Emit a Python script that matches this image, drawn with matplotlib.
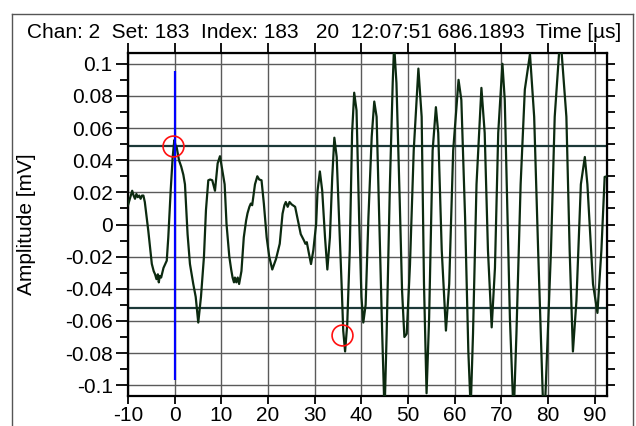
import numpy as np
import matplotlib
matplotlib.use("Agg")
import matplotlib.pyplot as plt
from matplotlib.lines import Line2D

plt.rcParams["font.family"] = ["Liberation Sans", "DejaVu Sans"]
plt.rcParams["axes.unicode_minus"] = False

# waveform (time in us, amplitude in mV)
t = [-10.0, -9.6, -9.1, -8.8, -8.5, -8.2, -7.9, -7.6, -7.3, -7.0, -6.7, -6.4,
     -5.65, -4.9, -4.5, -4.2, -3.9, -3.6, -3.4, -3.2, -2.9, -2.4, -1.7, -1.37,
     -0.86, -0.43, -0.08, 0.2, 0.43, 0.92, 1.4, 1.85, 2.2, 2.76, 3.27, 3.98,
     4.5, 5.05, 5.63, 6.27, 6.7, 7.2, 7.6, 8.05, 8.63, 9.2, 9.7, 10.3, 10.7,
     11.1, 11.7, 12.1, 12.4, 12.7, 12.9, 13.2, 13.5, 13.8, 14.3, 14.8, 15.3,
     15.6, 16.0, 16.3, 16.6, 17.2, 17.7, 18.1, 18.6, 19.1, 19.7, 20.25, 20.9,
     21.7, 22.5, 23.1, 23.5, 23.8, 24.2, 24.6, 25.05, 25.8, 26.25, 27.0, 27.7,
     28.0, 28.3, 28.75, 29.2, 29.7, 30.3, 30.6, 31.1, 31.6, 32.2, 32.7, 33.25,
     33.75, 34.2, 34.7, 35.2, 35.75, 36.1, 36.5, 36.96, 37.5, 38.0, 38.45,
     38.95, 39.5, 40.0, 40.4, 40.9, 41.5, 42.2, 42.75, 43.25, 43.8, 44.45,
     44.95, 45.4, 46.1, 46.7, 47.0, 47.5, 48.2, 48.7, 49.2, 49.7, 50.4, 51.2,
     52.2, 52.9, 53.4, 53.95, 54.5, 55.25, 55.95, 56.45, 57.2, 58.1, 58.8,
     59.65, 60.8, 61.4, 62.2, 62.9, 63.4, 63.9, 64.65, 65.7, 66.4, 67.1, 67.9,
     68.6, 69.3, 70.2, 70.7, 71.8, 72.6, 73.2, 74.1, 75.0, 76.1, 77.0, 77.85,
     79.1, 80.6, 81.4, 82.6, 83.9, 84.6, 85.3, 86.05, 87.0, 87.85, 88.4, 89.6,
     90.55, 91.4, 92.1, 92.6]
amp = [0.012, 0.016, 0.021, 0.018, 0.016, 0.019, 0.017, 0.018, 0.016, 0.018,
       0.018, 0.014, -0.004, -0.0245, -0.029, -0.031, -0.034, -0.031, -0.036,
       -0.032, -0.033, -0.027, -0.0225, -0.008, 0.021, 0.042, 0.0525, 0.049,
       0.048, 0.040, 0.036, 0.031, 0.025, -0.006, -0.0246, -0.037, -0.045,
       -0.061, -0.045, -0.020, 0.009, 0.0275, 0.028, 0.0275, 0.021, 0.038,
       0.0425, 0.032, 0.025, 0.0004, -0.020, -0.028, -0.033, -0.036, -0.033,
       -0.036, -0.033, -0.037, -0.029, -0.008, 0.0025, 0.007, 0.011, 0.013,
       0.012, 0.025, 0.030, 0.028, 0.0275, 0.013, -0.008, -0.020, -0.028,
       -0.0215, -0.012, 0.0067, 0.012, 0.014, 0.011, 0.014, 0.0125, 0.011,
       0.0046, -0.006, -0.010, -0.012, -0.011, -0.018, -0.0246, -0.016, 0.0004,
       0.021, 0.033, 0.021, -0.008, -0.028, -0.008, 0.0296, 0.054, 0.042,
       0.0046, -0.037, -0.066, -0.079, -0.062, -0.016, 0.057, 0.082, 0.071,
       0.0046, -0.045, -0.061, -0.050, 0.0046, 0.0546, 0.0765, 0.067, 0.0046,
       -0.068, -0.118, -0.068, 0.025, 0.088, 0.112, 0.088, 0.015, -0.041,
       -0.070, -0.068, -0.025, 0.046, 0.097, 0.067, -0.037, -0.105, -0.058,
       0.046, 0.073, 0.057, -0.016, -0.066, -0.037, 0.046, 0.090, 0.0775,
       0.0046, -0.079, -0.115, -0.068, 0.025, 0.085, 0.057, -0.016, -0.064,
       -0.027, 0.057, 0.100, 0.0775, -0.058, -0.12, -0.068, 0.025, 0.084,
       0.106, 0.067, -0.016, -0.13, -0.016, 0.067, 0.118, 0.067, -0.016,
       -0.079, -0.0475, 0.025, 0.042, 0.025, -0.037, -0.055, -0.016, 0.0296,
       0.030]

thresholds = [0.0486, -0.052]
cursor_t = 0.0
cursor_span = [-0.0965, 0.0958]
marks_t = [-0.43, 35.9]
marks_amp = [0.049, -0.0688]

xticks = [-10, 0, 10, 20, 30, 40, 50, 60, 70, 80, 90]
yticks = [-0.1, -0.08, -0.06, -0.04, -0.02, 0, 0.02, 0.04, 0.06, 0.08, 0.1]
ylabels = ["-0.1", "-0.08", "-0.06", "-0.04", "-0.02", "0",
           "0.02", "0.04", "0.06", "0.08", "0.1"]
title = "Chan: 2  Set: 183  Index: 183   20  12:07:51 686.1893  Time [\u00b5s]"

fig = plt.figure(figsize=(6.36, 4.26), dpi=100)
ax = fig.add_axes([128 / 636, 1 - 396 / 426, 479 / 636, 343 / 426])

ax.set_xlim(-10, 92.6)
ax.set_ylim(-0.1067, 0.1067)

for x in xticks:
    ax.axvline(x, color="#5a5a5a", lw=1.0, zorder=1)
for y in yticks:
    ax.axhline(y, color="#5a5a5a", lw=1.0, zorder=1)

for y in thresholds:
    ax.axhline(y, color="#1c3838", lw=1.6, zorder=2)

ax.plot(t, amp, color="#0c2a10", lw=1.6, zorder=3)
ax.vlines(cursor_t, cursor_span[0], cursor_span[1], color="#0000ff", lw=1.6, zorder=4)
ax.plot(marks_t, marks_amp, "o", ms=15, mfc="none", mec="#ff1010", mew=1.2, zorder=5)

ax.set_xticks(xticks)
ax.set_xticklabels([str(x) for x in xticks])
ax.set_yticks(yticks)
ax.set_yticklabels(ylabels)
ax.set_yticks(np.arange(-0.1, 0.1001, 0.01), minor=True)
ax.tick_params(axis="both", labelsize=15, width=1.3, color="black")
ax.tick_params(axis="y", which="major", length=9, pad=2)
ax.tick_params(axis="y", which="minor", length=5.5, width=1.3)
ax.tick_params(axis="x", which="major", length=6, pad=1)

for s in ax.spines.values():
    s.set_linewidth(1.6)

right = ax.secondary_yaxis("right")
right.set_yticks(np.arange(-0.1, 0.1001, 0.01))
right.tick_params(length=6, width=1.3, labelright=False)
top = ax.secondary_xaxis("top")
top.set_xticks(xticks)
top.tick_params(length=7, width=1.3, labeltop=False)

fig.text(324 / 636, 1 - 33 / 426, title, fontsize=15, ha="center", va="center")
fig.text(27 / 636, 1 - 224 / 426, "Amplitude [mV]", fontsize=15,
         rotation=90, ha="center", va="center")

fig.add_artist(Line2D([12 / 636, 12 / 636], [0, 1 - 14 / 426],
                      transform=fig.transFigure, color="#555555", lw=1))
fig.add_artist(Line2D([12 / 636, 633 / 636], [1 - 14 / 426, 1 - 14 / 426],
                      transform=fig.transFigure, color="#555555", lw=1))
fig.add_artist(Line2D([633 / 636, 633 / 636], [0, 1 - 14 / 426],
                      transform=fig.transFigure, color="#555555", lw=1))

fig.savefig("out.png", dpi=100)
